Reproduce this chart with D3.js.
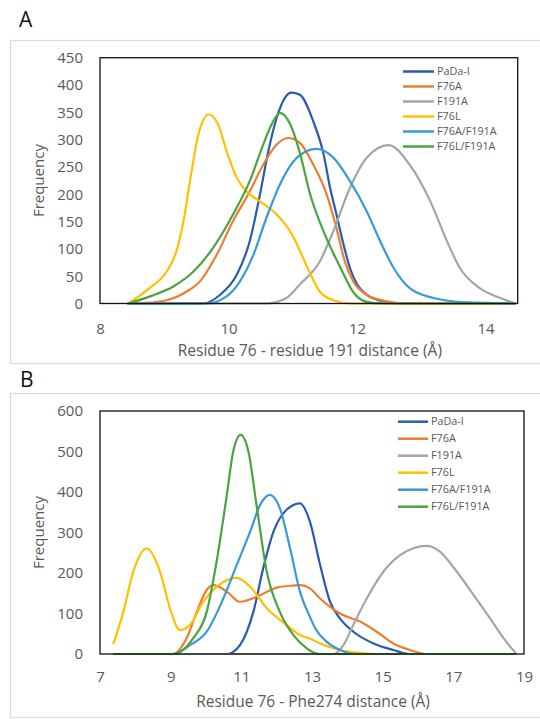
<!DOCTYPE html>
<html>
<head>
<meta charset="utf-8">
<script src="https://cdn.jsdelivr.net/npm/d3@7"></script>
<style>
  html, body { margin: 0; padding: 0; background: #fff; }
  svg { display: block; }
  text { font-family: "Open Sans", "DejaVu Sans", sans-serif; }
</style>
</head>
<body>
<svg id="chart" width="540" height="719"></svg>
<script>
// ---------- DATA ----------
const seriesNames = ["PaDa-I", "F76A", "F191A", "F76L", "F76A/F191A", "F76L/F191A"];
const seriesColors = ["#2a5caa", "#ed7d31", "#a5a5a5", "#ffc000", "#3a9ad6", "#4aa341"];

// Panel A: Residue 76 - residue 191 distance
const panelAXTicks = [8, 10, 12, 14];
const panelAYTicks = [0, 50, 100, 150, 200, 250, 300, 350, 400, 450];
const A_PaDaI = [[8.44,0],[9.61,0],[9.87,16],[10.13,53],[10.33,114],[10.49,200],[10.62,279],[10.75,340],[10.88,377],[10.98,386],[11.11,382],[11.32,333],[11.48,273],[11.58,212],[11.68,163],[11.79,108],[11.89,65],[12.0,35],[12.15,16],[12.36,5],[12.65,0],[14.46,0]];
const A_F76A = [[8.44,0],[8.7,1],[9.04,6],[9.35,22],[9.56,41],[9.82,90],[10.07,151],[10.33,205],[10.54,254],[10.75,291],[10.93,303],[11.11,294],[11.32,254],[11.53,199],[11.68,138],[11.81,77],[11.94,41],[12.15,16],[12.46,4],[12.75,0],[14.46,0]];
const A_F191A = [[8.44,0],[10.59,0],[10.9,10],[11.11,35],[11.42,77],[11.63,132],[11.89,212],[12.15,267],[12.49,290],[12.82,254],[13.14,187],[13.40,114],[13.60,65],[13.91,28],[14.23,10],[14.46,0]];
const A_F76L = [[8.44,0],[8.78,29],[9.04,59],[9.19,96],[9.30,151],[9.40,224],[9.53,309],[9.69,346],[9.84,327],[9.97,279],[10.13,230],[10.28,205],[10.49,187],[10.75,163],[10.96,132],[11.16,84],[11.27,55],[11.42,22],[11.63,6],[11.9,0],[14.46,0]];
const A_F76AF191A = [[8.44,0],[9.66,0],[9.97,13],[10.18,41],[10.39,90],[10.59,157],[10.80,218],[11.01,260],[11.22,279],[11.37,283],[11.63,267],[11.89,224],[12.15,169],[12.36,114],[12.57,65],[12.82,28],[13.19,10],[13.7,2],[14.46,0]];
const A_F76LF191A = [[8.44,0],[8.78,13],[9.14,31],[9.45,58],[9.76,102],[10.07,163],[10.33,224],[10.54,291],[10.68,330],[10.80,349],[10.96,328],[11.11,276],[11.27,200],[11.50,126],[11.74,66],[11.94,21],[12.15,3],[12.4,0],[14.46,0]];

// Panel B: Residue 76 - Phe274 distance
const panelBXTicks = [7, 9, 11, 13, 15, 17, 19];
const panelBYTicks = [0, 100, 200, 300, 400, 500, 600];
const B_PaDaI = [[7.4,0],[10.59,0],[10.96,22],[11.34,104],[11.62,212],[11.91,302],[12.28,356],[12.66,372],[12.94,327],[13.23,220],[13.51,129],[13.79,88],[14.17,55],[14.74,26],[15.30,10],[15.77,0],[18.75,0]];
const B_F76A = [[7.4,0],[9.07,0],[9.45,39],[9.74,104],[10.02,158],[10.21,170],[10.59,154],[10.96,129],[11.43,141],[12.0,164],[12.47,169],[12.66,170],[12.94,162],[13.23,137],[13.79,100],[14.36,80],[14.83,55],[15.30,26],[15.77,10],[16.25,0],[18.75,0]];
const B_F191A = [[7.4,0],[13.60,0],[13.89,22],[14.17,72],[14.55,137],[15.02,203],[15.49,244],[15.87,261],[16.25,267],[16.62,253],[17.10,203],[17.57,146],[18.04,88],[18.42,39],[18.75,4]];
const B_F76L = [[7.38,26],[7.66,104],[7.94,203],[8.32,261],[8.70,203],[8.98,113],[9.26,59],[9.55,72],[9.92,129],[10.30,166],[10.87,188],[11.25,166],[11.72,113],[12.28,72],[12.66,47],[12.94,38],[13.23,26],[13.79,10],[14.36,3],[14.8,0],[18.75,0]];
const B_F76AF191A = [[7.4,0],[9.07,0],[9.55,22],[10.02,55],[10.49,137],[10.87,220],[11.25,302],[11.53,368],[11.81,393],[12.09,360],[12.38,261],[12.66,154],[12.94,92],[13.1,62],[13.42,30],[13.79,10],[14.2,0],[18.75,0]];
const B_F76LF191A = [[7.4,0],[9.07,0],[9.64,39],[10.02,104],[10.30,228],[10.59,393],[10.77,500],[10.98,541],[11.20,500],[11.43,368],[11.72,203],[12.09,104],[12.47,47],[12.85,14],[13.2,0],[18.75,0]];

const panelA = {
  label: "A", xTitle: "Residue 76 - residue 191 distance (Å)",
  xDomain: [8, 14.5], yDomain: [0, 450], xTicks: panelAXTicks, yTicks: panelAYTicks,
  series: [A_PaDaI, A_F76A, A_F191A, A_F76L, A_F76AF191A, A_F76LF191A],
  frame: {x: 10, y: 40, w: 540, h: 323},
  plot: {l: 100, t: 57.7, r: 517.7, b: 303.5},
  labelPos: {x: 19, y: 27},
  legend: {x1: 403, x2: 434, tx: 437, y0: 71.5, dy: 15},
  xTickY: 334, xTitleY: 356, yTitleX: 44
};
const panelB = {
  label: "B", xTitle: "Residue 76 - Phe274 distance (Å)",
  xDomain: [7, 19], yDomain: [0, 600], xTicks: panelBXTicks, yTicks: panelBYTicks,
  series: [B_PaDaI, B_F76A, B_F191A, B_F76L, B_F76AF191A, B_F76LF191A],
  frame: {x: 10, y: 393, w: 540, h: 324},
  plot: {l: 100, t: 411, r: 524, b: 654},
  labelPos: {x: 20, y: 387},
  legend: {x1: 398, x2: 428, tx: 431, y0: 421.7, dy: 17},
  xTickY: 682, xTitleY: 707, yTitleX: 44
};

// ---------- DRAW ----------
const svg = d3.select("#chart");
const textColor = "#595959";

function drawPanel(p) {
  const g = svg.append("g");
  g.append("rect").attr("x", p.frame.x + 0.5).attr("y", p.frame.y + 0.5)
    .attr("width", p.frame.w).attr("height", p.frame.h)
    .attr("fill", "#fff").attr("stroke", "#d9d9d9").attr("stroke-width", 1.2);

  g.append("text").attr("x", p.labelPos.x).attr("y", p.labelPos.y)
    .attr("font-size", 21).attr("fill", "#111").text(p.label);

  const x = d3.scaleLinear().domain(p.xDomain).range([p.plot.l, p.plot.r]);
  const y = d3.scaleLinear().domain(p.yDomain).range([p.plot.b, p.plot.t]);

  // y axis labels
  const yAxis = d3.axisLeft(y).tickValues(p.yTicks).tickSize(0).tickPadding(17).tickFormat(d3.format("d"));
  const ya = g.append("g").attr("transform", `translate(${p.plot.l},0)`).call(yAxis);
  ya.select(".domain").remove();
  ya.selectAll("text").attr("font-size", 15).attr("fill", textColor)
    .attr("font-family", "'Open Sans', sans-serif");

  // x axis labels
  const xAxis = d3.axisBottom(x).tickValues(p.xTicks).tickSize(0).tickPadding(0).tickFormat(d3.format("d"));
  const xa = g.append("g").attr("transform", `translate(0,${p.xTickY})`).call(xAxis);
  xa.select(".domain").remove();
  xa.selectAll("text").attr("font-size", 15).attr("fill", textColor).attr("dy", 0)
    .attr("font-family", "'Open Sans', sans-serif");

  // titles
  g.append("text").attr("x", (p.plot.l + p.plot.r) / 2 + 1).attr("y", p.xTitleY)
    .attr("text-anchor", "middle").attr("font-size", 15.5).attr("fill", textColor).text(p.xTitle);
  g.append("text").attr("transform", `translate(${p.yTitleX},${(p.plot.t + p.plot.b) / 2}) rotate(-90)`)
    .attr("text-anchor", "middle").attr("font-size", 15).attr("fill", textColor).text("Frequency");

  // lines
  const line = d3.line().x(d => x(d[0])).y(d => y(d[1])).curve(d3.curveMonotoneX);
  p.series.forEach((s, i) => {
    g.append("path").datum(s).attr("d", line).attr("fill", "none")
      .attr("stroke", seriesColors[i]).attr("stroke-width", 2.2)
      .attr("stroke-linejoin", "round").attr("stroke-linecap", "round");
  });

  // plot frame
  g.append("rect").attr("x", p.plot.l).attr("y", p.plot.t)
    .attr("width", p.plot.r - p.plot.l).attr("height", p.plot.b - p.plot.t)
    .attr("fill", "none").attr("stroke", "#111").attr("stroke-width", 1.3);

  // legend
  const lg = g.append("g");
  seriesNames.forEach((n, i) => {
    const yy = p.legend.y0 + i * p.legend.dy;
    lg.append("line").attr("x1", p.legend.x1).attr("x2", p.legend.x2)
      .attr("y1", yy).attr("y2", yy).attr("stroke", seriesColors[i]).attr("stroke-width", 2.5);
    lg.append("text").attr("x", p.legend.tx).attr("y", yy).attr("dy", "0.35em")
      .attr("font-size", 10.8).attr("fill", textColor).text(n);
  });
}

drawPanel(panelA);
drawPanel(panelB);
</script>
</body>
</html>
